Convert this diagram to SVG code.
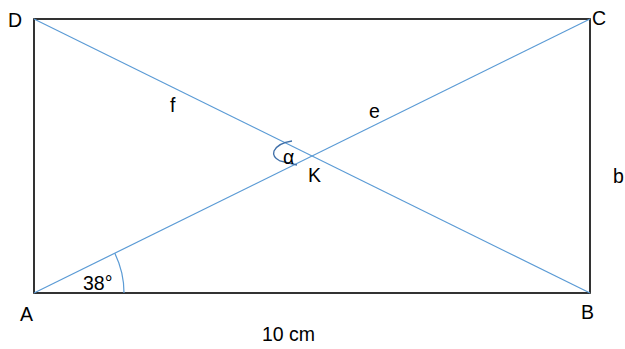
<svg xmlns="http://www.w3.org/2000/svg" width="625" height="349" viewBox="0 0 625 349">
<style>
.t{font-family:"Liberation Sans",Arial,sans-serif;font-size:19.5px;fill:#000}
.blue{stroke:#5B9BD5;stroke-width:1.2;fill:none}
</style>
<rect width="625" height="349" fill="#fff"/>
<g id="rectangle">
<rect x="34" y="19" width="556" height="274" fill="none" stroke="#000" stroke-width="1.6"/>
</g>
<g id="connectors">
<line class="blue" x1="34" y1="19" x2="590" y2="293"/>
<line class="blue" x1="34" y1="293" x2="590" y2="19"/>
<path class="blue" d="M114.8 253.3 A90 90 0 0 1 124 293"/>
<path d="M292 141 Q278 143 274 151 Q272 157 280 161 L297 165" fill="none" stroke="#3F6FA8" stroke-width="1.3"/>
</g>
<g id="labels">
<text class="t" x="8" y="27">D</text>
<text class="t" x="592" y="25">C</text>
<text class="t" x="581" y="319">B</text>
<text class="t" x="20" y="321">A</text>
<text class="t" x="83" y="290">38°</text>
<text class="t" x="283" y="164">α</text>
<text class="t" x="308" y="182">K</text>
<text class="t" x="170" y="112">f</text>
<text class="t" x="369" y="118">e</text>
<text class="t" x="613" y="183">b</text>
<text class="t" x="262" y="341">10 cm</text>
</g>
</svg>
